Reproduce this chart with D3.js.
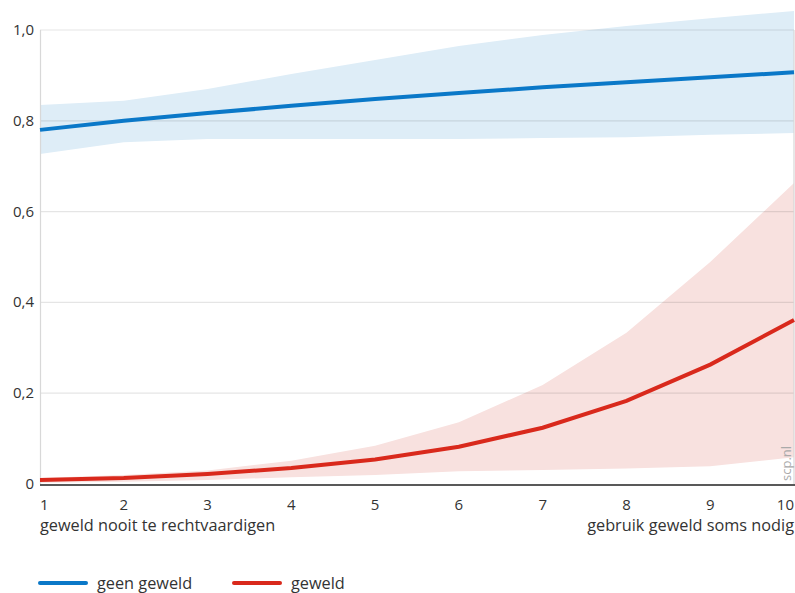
<!DOCTYPE html>
<html><head><meta charset="utf-8">
<script src="https://cdn.jsdelivr.net/npm/d3@7"></script>
<style>
body{margin:0;background:#fff;}
text{font-family:"Open Sans","Noto Sans",sans-serif;fill:#333;}
</style></head>
<body><svg id="c" width="795" height="593"></svg>
<script>
const xValues = [1,2,3,4,5,6,7,8,9,10];
const geenGeweld = [0.780,0.800,0.817,0.833,0.848,0.861,0.874,0.885,0.896,0.907];
const geenGeweldUpper = [0.835,0.844,0.870,0.903,0.934,0.965,0.989,1.009,1.026,1.042];
const geenGeweldLower = [0.727,0.753,0.760,0.760,0.760,0.760,0.762,0.764,0.769,0.773];
const geweld = [0.009,0.013,0.022,0.035,0.054,0.082,0.124,0.183,0.263,0.361];
const geweldUpper = [0.013,0.020,0.030,0.051,0.084,0.136,0.218,0.333,0.489,0.663];
const geweldLower = [0.003,0.005,0.009,0.015,0.020,0.028,0.031,0.034,0.039,0.059];
const yTicks = [0,0.2,0.4,0.6,0.8,1.0];
const yTickLabels = ["0","0,2","0,4","0,6","0,8","1,0"];
const xTitleLeft = "geweld nooit te rechtvaardigen";
const xTitleRight = "gebruik geweld soms nodig";
const seriesNames = ["geen geweld","geweld"];
const colors = {blue:"#0a78c8", blueBand:"#deedf7", red:"#d9291c", redBand:"#f8e1df"};

const svg = d3.select("#c");
const x = d3.scaleLinear().domain([1,10]).range([40,794]);
const y = d3.scaleLinear().domain([0,1]).range([484,30]);

// bands
const area = (lo,hi)=>d3.area().x((d,i)=>x(xValues[i])).y0((d,i)=>y(lo[i])).y1((d,i)=>y(hi[i]));
svg.append("path").attr("d",area(geenGeweldLower,geenGeweldUpper)(xValues)).attr("fill",colors.blueBand);
svg.append("path").attr("d",area(geweldLower,geweldUpper)(xValues)).attr("fill",colors.redBand);

// grid
svg.append("g").selectAll("line").data(yTicks.filter(d=>d>0)).join("line")
  .attr("x1",40).attr("x2",794).attr("y1",d=>y(d)).attr("y2",d=>y(d))
  .attr("stroke","#000").attr("stroke-opacity",0.1).attr("stroke-width",1.2);
svg.append("line").attr("x1",40.5).attr("x2",40.5).attr("y1",y(1)).attr("y2",y(0)).attr("stroke","#d8d8d8").attr("stroke-width",1.2);
svg.append("line").attr("x1",794).attr("x2",794).attr("y1",y(1)).attr("y2",y(0)).attr("stroke","#d8d8d8").attr("stroke-width",1.2);

// y labels
svg.append("g").selectAll("text").data(yTicks).join("text")
  .attr("x",34).attr("y",d=>y(d)+5).attr("text-anchor","end").attr("font-size",15)
  .text((d,i)=>yTickLabels[i]);

// lines
const line = vals=>d3.line().x((d,i)=>x(xValues[i])).y((d,i)=>y(vals[i]))(xValues);
svg.append("path").attr("d",line(geenGeweld)).attr("fill","none").attr("stroke",colors.blue).attr("stroke-width",4);
svg.append("path").attr("d",line(geweld)).attr("fill","none").attr("stroke",colors.red).attr("stroke-width",4);

// x axis
svg.append("line").attr("x1",40).attr("x2",795).attr("y1",y(0)+1).attr("y2",y(0)+1).attr("stroke","#222").attr("stroke-width",1.5);
svg.append("g").selectAll("text").data(xValues).join("text")
  .attr("x",d=>x(d)).attr("y",510).attr("font-size",15)
  .attr("text-anchor",(d,i)=>i===0?"start":(i===xValues.length-1?"end":"middle"))
  .text(d=>d);
svg.append("text").attr("x",40).attr("y",531).attr("font-size",16.3).text(xTitleLeft);
svg.append("text").attr("x",794).attr("y",531).attr("font-size",16.3).attr("text-anchor","end").text(xTitleRight);

// watermark
svg.append("text").attr("transform","translate(791,481) rotate(-90)").attr("font-size",13)
  .style("fill","#aaa").text("scp.nl");

// legend
const leg = [{n:seriesNames[0],c:colors.blue,x:40},{n:seriesNames[1],c:colors.red,x:234}];
leg.forEach(l=>{
  svg.append("line").attr("x1",l.x).attr("x2",l.x+46).attr("y1",583).attr("y2",583).attr("stroke",l.c).attr("stroke-width",4).attr("stroke-linecap","round");
  svg.append("text").attr("x",l.x+57).attr("y",589).attr("font-size",16.3).text(l.n);
});
</script></body></html>
